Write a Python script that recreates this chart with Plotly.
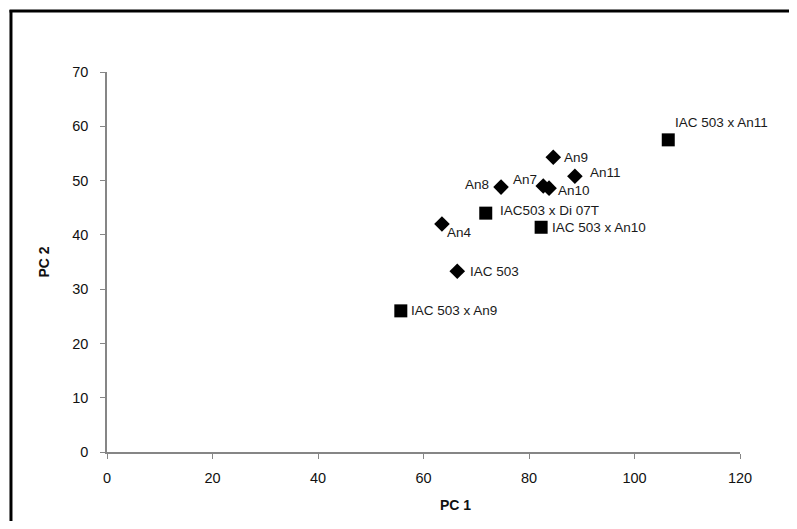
import plotly.graph_objects as go

# Data
diamond_labels = ["An9", "An11", "An8", "An7", "An10", "An4", "IAC 503"]
diamond_pc1 = [84.6, 88.7, 74.7, 82.7, 83.8, 63.5, 66.4]
diamond_pc2 = [54.3, 50.8, 48.8, 49.0, 48.6, 42.0, 33.3]

square_labels = ["IAC 503 x An11", "IAC503 x Di 07T", "IAC 503 x An10", "IAC 503 x An9"]
square_pc1 = [106.4, 71.8, 82.3, 55.7]
square_pc2 = [57.5, 44.0, 41.4, 26.0]

x_ticks = [0, 20, 40, 60, 80, 100, 120]
y_ticks = [0, 10, 20, 30, 40, 50, 60, 70]

# label offsets (pixels): (xanchor, xshift, yshift)
label_style = {
    "An9": ("left", 9, 0),
    "An11": ("left", 13, 4),
    "An8": ("right", -10, 3),
    "An7": ("right", -4, 7),
    "An10": ("left", 7, -2),
    "An4": ("left", 3, -8),
    "IAC 503": ("left", 11, 0),
    "IAC 503 x An11": ("left", 5, 17),
    "IAC503 x Di 07T": ("left", 12, 3),
    "IAC 503 x An10": ("left", 9, 0),
    "IAC 503 x An9": ("left", 8, 0),
}

FONT = "Liberation Sans, Arial, sans-serif"

fig = go.Figure()
fig.add_trace(go.Scatter(x=diamond_pc1, y=diamond_pc2, mode="markers",
                         marker=dict(symbol="diamond", size=12, color="black"),
                         showlegend=False, hoverinfo="skip"))
fig.add_trace(go.Scatter(x=square_pc1, y=square_pc2, mode="markers",
                         marker=dict(symbol="square", size=13, color="black"),
                         showlegend=False, hoverinfo="skip"))

for lab, xv, yv in list(zip(diamond_labels, diamond_pc1, diamond_pc2)) + list(zip(square_labels, square_pc1, square_pc2)):
    anchor, xs, ys = label_style[lab]
    fig.add_annotation(x=xv, y=yv, text=lab, showarrow=False, xanchor=anchor,
                       yanchor="middle", xshift=xs, yshift=ys,
                       font=dict(family=FONT, size=13.5, color="#1a1a1a"))

axis_common = dict(showgrid=False, zeroline=False, showline=True, linecolor="#868686",
                   linewidth=1.5, ticks="outside", ticklen=5, tickcolor="#868686",
                   tickfont=dict(family=FONT, size=14.5, color="#111111"))

fig.update_xaxes(range=[0, 120], tickvals=x_ticks, ticktext=[str(v) for v in x_ticks],
                 ticklabelstandoff=7, **axis_common)
fig.update_yaxes(range=[0, 70], tickvals=y_ticks, ticktext=[str(v) for v in y_ticks],
                 ticklabelstandoff=9,
                 title=dict(text="<b>PC 2</b>", font=dict(family=FONT, size=14, color="#111111"), standoff=19),
                 **axis_common)

# x-axis title (offset right of centre, as in the reference)
fig.add_annotation(xref="paper", yref="paper", x=0.551, y=-0.139, text="<b>PC 1</b>",
                   showarrow=False, xanchor="center", yanchor="middle",
                   font=dict(family=FONT, size=14, color="#111111"))

# outer frame (left and top edges only)
fig.add_shape(type="line", xref="paper", yref="paper", x0=-0.1517, x1=-0.1517, y0=1.163, y1=-0.21,
              line=dict(color="black", width=3))
fig.add_shape(type="line", xref="paper", yref="paper", x0=-0.154, x1=1.1, y0=1.1605, y1=1.1605,
              line=dict(color="black", width=3))

fig.update_layout(width=781, height=513, margin=dict(l=99, r=49, t=64, b=69),
                  plot_bgcolor="white", paper_bgcolor="white")

fig.write_html("out.html")
